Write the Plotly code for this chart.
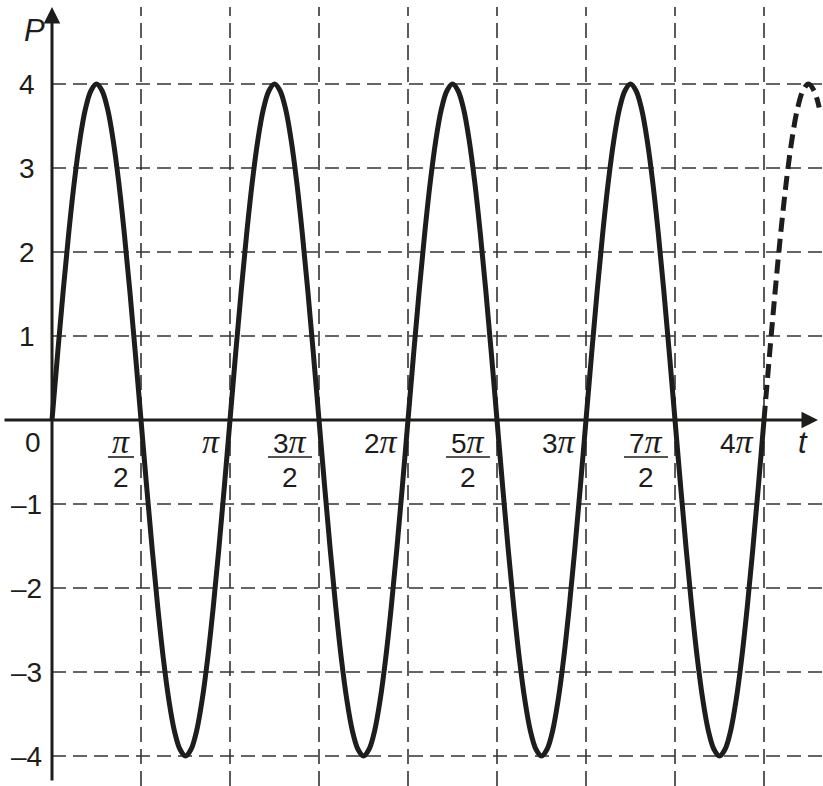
import plotly.graph_objects as go

# t is measured in units of pi (x = t / pi); samples every pi/32
half_wave = [0, 0.78, 1.53, 2.22, 2.83, 3.33, 3.7, 3.92,
             4, 3.92, 3.7, 3.33, 2.83, 2.22, 1.53, 0.78]
one_period = half_wave + [-p for p in half_wave]
t_solid = [k / 32 for k in range(129)]
p_solid = one_period * 4 + [0]

t_dashed = [4.0, 4.03125, 4.0625, 4.09375, 4.125, 4.15625, 4.1875,
            4.21875, 4.25, 4.28125, 4.31]
p_dashed = [0, 0.78, 1.53, 2.22, 2.83, 3.33, 3.7, 3.92, 4, 3.92, 3.72]

x_ticks = [0.5, 1, 1.5, 2, 2.5, 3, 3.5, 4]
x_numerators = ["", "", "3", "2", "5", "3", "7", "4"]
x_is_fraction = [True, False, True, False, True, False, True, False]

y_ticks = [4, 3, 2, 1, -1, -2, -3, -4]
y_labels = ["4", "3", "2", "1", "–1", "–2", "–3", "–4"]

W, H = 823, 786
X_RANGE = [-52 / 178, 771 / 178]
Y_RANGE = [-366 / 84, 420 / 84]
PX = (X_RANGE[1] - X_RANGE[0]) / W   # x units per pixel
PY = (Y_RANGE[1] - Y_RANGE[0]) / H   # y units per pixel

INK = "#1d1d1b"
GRID = "#333333"
SANS = "Liberation Sans"
PI = "<span style='font-family:Liberation Serif;font-size:34px'><i>π</i></span>"

fig = go.Figure()

# gridlines
for v in x_ticks:
    fig.add_shape(type="line", xref="x", yref="paper", x0=v, x1=v,
                  y0=0, y1=1 - 7 / H, line=dict(color=GRID, width=1.6, dash="15px,7px"),
                  layer="below")
for v in y_ticks:
    fig.add_shape(type="line", xref="x", yref="y", x0=0, x1=X_RANGE[1],
                  y0=v, y1=v, line=dict(color=GRID, width=1.6, dash="14px,7px"),
                  layer="below")

fig.add_trace(go.Scatter(
    x=t_solid, y=p_solid, mode="lines",
    line=dict(color=INK, width=5, shape="spline"),
    hoverinfo="skip", showlegend=False,
))
fig.add_trace(go.Scatter(
    x=t_dashed, y=p_dashed, mode="lines",
    line=dict(color=INK, width=5, shape="spline", dash="14px,7px"),
    hoverinfo="skip", showlegend=False,
))

annotations = []
# axes with arrow heads
annotations.append(dict(x=818 * PX + X_RANGE[0], y=0, ax=3 * PX + X_RANGE[0], ay=0,
                        xref="x", yref="y", axref="x", ayref="y", text="",
                        showarrow=True, arrowhead=2, arrowsize=1.1, arrowwidth=3,
                        arrowcolor=INK))
annotations.append(dict(x=0, y=Y_RANGE[1] - 7 * PY, ax=0, ay=Y_RANGE[1] - 782 * PY,
                        xref="x", yref="y", axref="x", ayref="y", text="",
                        showarrow=True, arrowhead=2, arrowsize=1.1, arrowwidth=3,
                        arrowcolor=INK))

# axis names
annotations.append(dict(x=0, y=Y_RANGE[1], xref="x", yref="y", text="<i>P</i>",
                        showarrow=False, xanchor="center", yanchor="middle",
                        xshift=-18, yshift=-30, font=dict(family=SANS, size=31, color=INK)))
annotations.append(dict(x=X_RANGE[1], y=0, xref="x", yref="y", text="<i>t</i>",
                        showarrow=False, xanchor="center", yanchor="middle",
                        xshift=-20, yshift=-22, font=dict(family=SANS, size=31, color=INK)))

# origin label
annotations.append(dict(x=0, y=0, xref="x", yref="y", text="0", showarrow=False,
                        xanchor="right", yanchor="middle", xshift=-9, yshift=-22,
                        font=dict(family=SANS, size=28, color=INK)))

# y tick labels
for v, lab in zip(y_ticks, y_labels):
    annotations.append(dict(x=0, y=v, xref="x", yref="y", text=lab, showarrow=False,
                            xanchor="right", yanchor="middle",
                            xshift=-15 if v > 0 else -8,
                            font=dict(family=SANS, size=28, color=INK)))

# x tick labels
for v, num, frac in zip(x_ticks, x_numerators, x_is_fraction):
    if frac:
        bar_w = 26 if num == "" else 44
        cx = v - (7 + bar_w / 2) * PX
        annotations.append(dict(x=cx, y=0, xref="x", yref="y", text=num + PI,
                                showarrow=False, xanchor="center", yanchor="middle",
                                yshift=-21, font=dict(family=SANS, size=28, color=INK)))
        annotations.append(dict(x=cx, y=0, xref="x", yref="y", text="2",
                                showarrow=False, xanchor="center", yanchor="middle",
                                yshift=-57, font=dict(family=SANS, size=28, color=INK)))
        fig.add_shape(type="line", xref="x", yref="y",
                      x0=cx - bar_w / 2 * PX, x1=cx + bar_w / 2 * PX,
                      y0=-37 * PY, y1=-37 * PY, line=dict(color=INK, width=1.6))
    else:
        annotations.append(dict(x=v, y=0, xref="x", yref="y", text=num + PI,
                                showarrow=False, xanchor="right", yanchor="middle",
                                xshift=-8, yshift=-21,
                                font=dict(family=SANS, size=28, color=INK)))

fig.update_layout(
    width=W, height=H,
    margin=dict(l=0, r=0, t=0, b=0),
    paper_bgcolor="white", plot_bgcolor="white",
    xaxis=dict(range=X_RANGE, visible=False, fixedrange=True),
    yaxis=dict(range=Y_RANGE, visible=False, fixedrange=True),
    annotations=annotations,
    hovermode=False,
)

# drop the browser's default body margin so the figure sits at the page corner
fig.write_html("out.html", config={"displayModeBar": False},
               post_script="document.body.style.margin = '0';")
